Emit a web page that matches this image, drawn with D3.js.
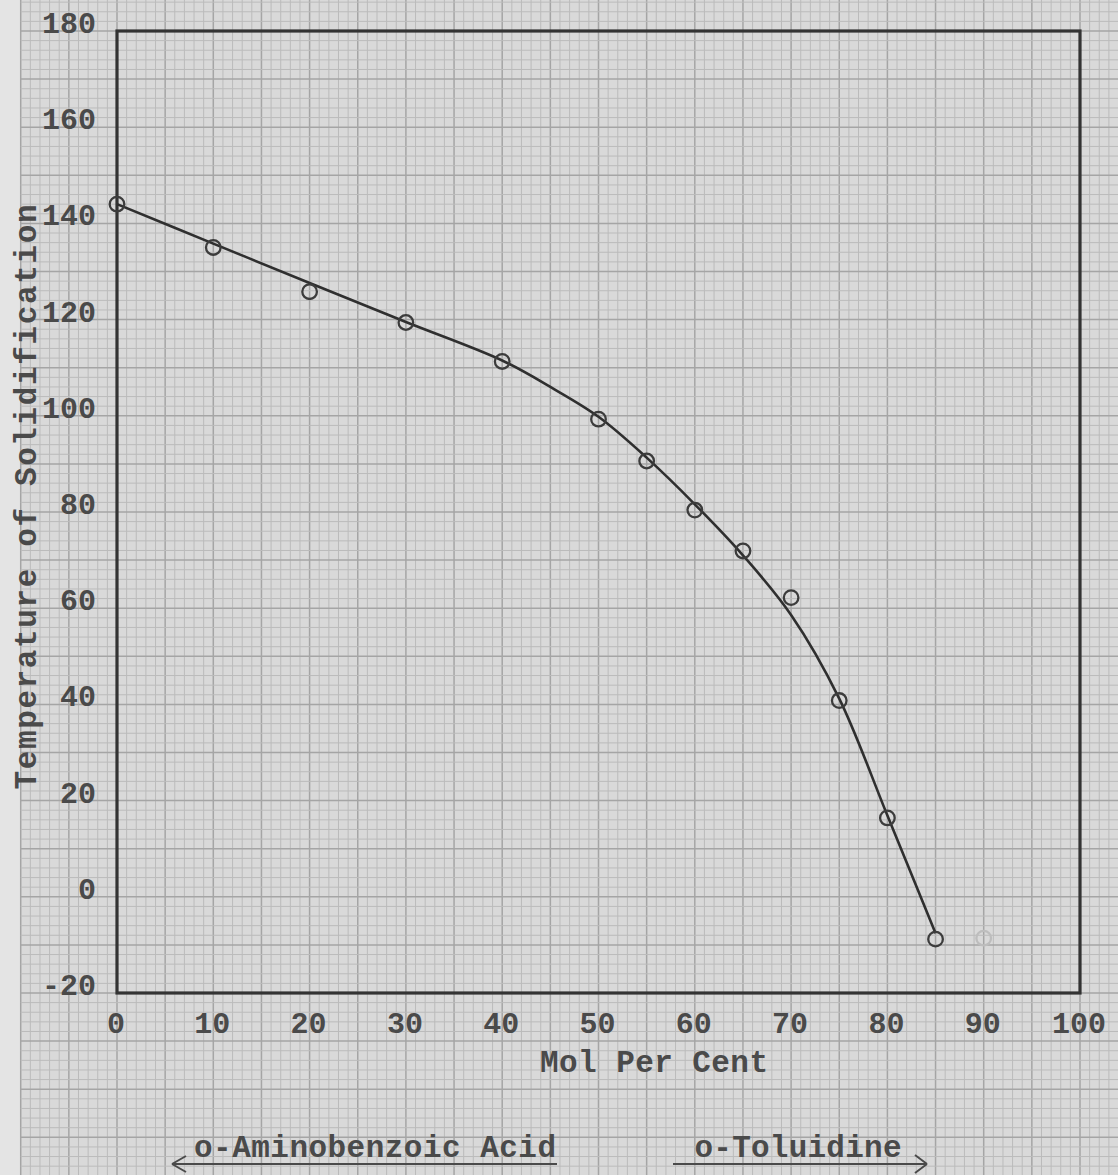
<!DOCTYPE html>
<html>
<head>
<meta charset="utf-8">
<script src="https://cdn.jsdelivr.net/npm/d3@7"></script>
<style>
  html, body { margin: 0; padding: 0; background: #e4e4e4; }
  svg { display: block; }
  text { font-family: "Liberation Mono", "DejaVu Sans Mono", monospace; font-weight: bold; fill: #4a4a4a; }
</style>
</head>
<body>
<svg id="chart" width="1118" height="1175"></svg>
<script>
// ---- data ----
const xTicks = [0, 10, 20, 30, 40, 50, 60, 70, 80, 90, 100];
const yTicks = [-20, 0, 20, 40, 60, 80, 100, 120, 140, 160, 180];
const molPerCent = [0, 10, 20, 30, 40, 50, 55, 60, 65, 70, 75, 80, 85];
const tempSolid  = [144, 135, 125.8, 119.4, 111.3, 99.3, 90.6, 80.4, 71.9, 62.2, 40.8, 16.4, -8.8];
const faintMol   = [90];
const faintTemp  = [-8.6];
// hand-drawn smooth curve through the points
const curveMol  = [0, 10, 20, 30, 40, 45, 50, 55, 60, 65, 70, 75, 80, 85];
const curveTemp = [144, 135.8, 127.6, 119.5, 111.5, 106.0, 99.8, 91.3, 81.6, 71.0, 58.6, 41.2, 16.9, -7.6];
const xTitle = "Mol Per Cent";
const yTitle = "Temperature of Solidification";
const leftNote = "o-Aminobenzoic Acid";
const rightNote = "o-Toluidine";

// ---- layout ----
const W = 1118, H = 1175;
const svg = d3.select("#chart");
const x = d3.scaleLinear().domain([0, 100]).range([117, 1080]);
const y = d3.scaleLinear().domain([-20, 180]).range([993, 31]);

// paper
const paperLeft = x(-10);
svg.append("rect").attr("x", 0).attr("y", 0).attr("width", W).attr("height", H).attr("fill", "#e4e4e4");
svg.append("rect").attr("x", paperLeft).attr("y", 0).attr("width", W - paperLeft).attr("height", H).attr("fill", "#d9d9d9");

const grid = svg.append("g");
const xv = d3.range(-10, Math.floor(x.invert(W)) + 1, 1);
const yv = d3.range(Math.ceil(y.invert(H) / 2) * 2, y.invert(0), 2);
grid.selectAll("line.v").data(xv).join("line")
  .attr("x1", d => x(d)).attr("x2", d => x(d)).attr("y1", 0).attr("y2", H)
  .attr("stroke", d => d % 5 === 0 ? "#a5a5a5" : "#bbbbbb")
  .attr("stroke-width", d => d % 5 === 0 ? 1.5 : 1);
grid.selectAll("line.h").data(yv).join("line")
  .attr("x1", paperLeft).attr("x2", W).attr("y1", d => y(d)).attr("y2", d => y(d))
  .attr("stroke", d => d % 10 === 0 ? "#a5a5a5" : "#bbbbbb")
  .attr("stroke-width", d => d % 10 === 0 ? 1.5 : 1);

// frame
svg.append("rect")
  .attr("x", x(0)).attr("y", y(180))
  .attr("width", x(100) - x(0)).attr("height", y(-20) - y(180))
  .attr("fill", "none").attr("stroke", "#333").attr("stroke-width", 3.2);

// tick labels
svg.append("g").selectAll("text").data(yTicks).join("text")
  .attr("x", 96).attr("y", d => y(d) + 2)
  .attr("text-anchor", "end").attr("font-size", 30)
  .text(d => d);
svg.append("g").selectAll("text").data(xTicks).join("text")
  .attr("x", d => x(d) - 1).attr("y", 1033)
  .attr("text-anchor", "middle").attr("font-size", 30)
  .text(d => d);

// titles
svg.append("text").attr("x", 654).attr("y", 1072)
  .attr("text-anchor", "middle").attr("font-size", 31)
  .attr("textLength", 228).attr("lengthAdjust", "spacing")
  .text(xTitle);
svg.append("text")
  .attr("transform", "translate(36,497) rotate(-90)")
  .attr("text-anchor", "middle").attr("font-size", 31)
  .attr("textLength", 585).attr("lengthAdjust", "spacing")
  .text(yTitle);

// bottom notes with arrows
svg.append("text").attr("x", 375).attr("y", 1157)
  .attr("text-anchor", "middle").attr("font-size", 31)
  .attr("textLength", 362).attr("lengthAdjust", "spacing")
  .text(leftNote);
svg.append("text").attr("x", 798).attr("y", 1157)
  .attr("text-anchor", "middle").attr("font-size", 31)
  .attr("textLength", 207).attr("lengthAdjust", "spacing")
  .text(rightNote);
const arrows = svg.append("g").attr("fill", "none").attr("stroke", "#4a4a4a").attr("stroke-width", 2);
arrows.append("path").attr("d", "M172,1164 L557,1164 M172,1164 L186,1156 M172,1164 L186,1172");
arrows.append("path").attr("d", "M673,1164 L927,1164 M927,1164 L915,1155 M927,1164 L915,1173");

// curve
const curvePts = curveMol.map((m, i) => [m, curveTemp[i]]);
const line = d3.line().x(d => x(d[0])).y(d => y(d[1])).curve(d3.curveCatmullRom.alpha(0.5));
svg.append("path").datum(curvePts)
  .attr("d", line).attr("fill", "none")
  .attr("stroke", "#2f2f2f").attr("stroke-width", 2.6);

// points
const pts = molPerCent.map((m, i) => [m, tempSolid[i]]);
svg.append("g").selectAll("circle").data(pts).join("circle")
  .attr("cx", d => x(d[0])).attr("cy", d => y(d[1])).attr("r", 7.3)
  .attr("fill", "none").attr("stroke", "#3c3c3c").attr("stroke-width", 2.3);
const fpts = faintMol.map((m, i) => [m, faintTemp[i]]);
svg.append("g").selectAll("circle").data(fpts).join("circle")
  .attr("cx", d => x(d[0])).attr("cy", d => y(d[1])).attr("r", 7.3)
  .attr("fill", "none").attr("stroke", "#bdbdbd").attr("stroke-width", 2.3);
</script>
</body>
</html>
